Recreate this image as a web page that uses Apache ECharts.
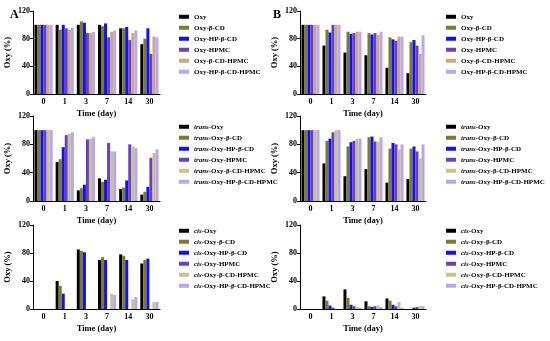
<!DOCTYPE html>
<html><head><meta charset="utf-8">
<script src="https://cdn.jsdelivr.net/npm/echarts@6/dist/echarts.min.js"></script>
<style>html,body{margin:0;padding:0;background:#fff}#c{width:550px;height:341px}</style>
</head><body><div id="c"></div>
<script>
const categories = ['0','1','3','7','14','30'];
const suffixes = ['', '-β-CD', '-HP-β-CD', '-HPMC', '-β-CD-HPMC', '-HP-β-CD-HPMC'];
const prefixes = ['Oxy', 'trans-Oxy', 'cis-Oxy'];
const yTicks = [0, 40, 80, 120];
// values: series-major (6 formulations x 6 days)
const oxyA = [
  [100,100,100,100,95,72],
  [100,93,105,98,95,80],
  [100,100,103,102,97,95],
  [100,95,88,82,78,58],
  [100,93,88,90,88,83],
  [100,96,90,92,92,82]
];
const transA = [
  [100,55,15,32,17,9],
  [100,59,18,27,19,13],
  [100,76,23,30,29,20],
  [100,93,87,82,80,61],
  [100,95,88,70,77,68],
  [100,97,90,70,75,73]
];
const cisA = [
  [0,40,85,70,78,65],
  [0,33,83,74,76,70],
  [0,22,81,70,70,72],
  [0,0,0,0,0,0],
  [0,0,0,22,14,10],
  [0,0,0,20,17,10]
];
const oxyB = [
  [100,70,60,56,38,30],
  [100,93,90,88,82,75],
  [100,89,87,86,79,78],
  [100,100,88,88,77,70],
  [100,100,90,85,83,58],
  [100,100,90,90,83,85]
];
const transB = [
  [100,53,35,45,26,31],
  [100,85,77,90,74,74],
  [100,88,83,91,82,77],
  [100,97,85,84,80,70],
  [100,100,88,84,73,60],
  [100,100,88,90,80,80]
];
const cisB = [
  [0,18,28,11,15,0],
  [0,12,16,4,12,0],
  [0,5,6,3,6,2],
  [0,2,4,4,4,3],
  [0,0,3,5,10,4],
  [0,0,2,3,2,4]
];
const colorsRow1 = ['#000000','#7d7a30','#1010f0','#6a3fc0','#c9a985','#b9a9f2'];
const colorsRow23 = ['#000000','#7d7a30','#1010f0','#6a3fc0','#c8c38e','#b4a6f0'];

const FONT = 'Liberation Serif';
const chart = echarts.init(document.getElementById('c'), null, {renderer:'canvas'});

const cols = [{left:33, width:127, legendLeft:179}, {left:300, width:126, legendLeft:446}];
const rows = [{top:11, height:83, legendTop:13}, {top:116, height:85, legendTop:123}, {top:225, height:84, legendTop:227}];
const panels = [[oxyA, transA, cisA], [oxyB, transB, cisB]];

const grid = [], xAxis = [], yAxis = [], series = [], legend = [];
let gi = 0;
for (let c = 0; c < 2; c++) {
  for (let r = 0; r < 3; r++) {
    grid.push({left: cols[c].left, width: cols[c].width, top: rows[r].top, height: rows[r].height, containLabel: false});
    xAxis.push({
      gridIndex: gi, type: 'category', data: categories,
      name: 'Time (day)', nameLocation: 'middle', nameGap: 15,
      nameTextStyle: {fontFamily: FONT, fontWeight: 'bold', fontSize: 8.5, color: '#000'},
      axisLine: {lineStyle: {color: '#000', width: 1}},
      axisTick: {alignWithLabel: true, length: 3, lineStyle: {color: '#000'}},
      axisLabel: {fontFamily: FONT, fontWeight: 'bold', fontSize: 8, color: '#000', margin: 4}
    });
    yAxis.push({
      gridIndex: gi, type: 'value', min: yTicks[0], max: yTicks[yTicks.length-1], interval: 40,
      name: 'Oxy (%)', nameLocation: 'middle', nameGap: 21,
      nameTextStyle: {fontFamily: FONT, fontWeight: 'bold', fontSize: 8.5, color: '#000'},
      axisLine: {show: true, lineStyle: {color: '#000', width: 1}},
      axisTick: {show: true, length: 3, lineStyle: {color: '#000'}},
      splitLine: {show: false},
      axisLabel: {fontFamily: FONT, fontWeight: 'bold', fontSize: 8, color: '#000', margin: 3}
    });
    const data = panels[c][r];
    const colors = r === 0 ? colorsRow1 : colorsRow23;
    const names = suffixes.map(s => prefixes[r] + s);
    for (let s = 0; s < 6; s++) {
      series.push({
        type: 'bar', name: names[s], xAxisIndex: gi, yAxisIndex: gi,
        data: data[s], barGap: '0%', barCategoryGap: '14%',
        itemStyle: {color: colors[s]}, animation: false
      });
    }
    legend.push({
      orient: 'vertical', left: cols[c].legendLeft, top: rows[r].legendTop, padding: 0,
      data: names, itemWidth: 10, itemHeight: 4, itemGap: 3.5, icon: 'rect',
      selectedMode: false,
      formatter: function (n) {
        if (n.indexOf('trans-') === 0) return '{i|trans}{b|' + n.slice(5) + '}';
        if (n.indexOf('cis-') === 0) return '{i|cis}{b|' + n.slice(3) + '}';
        return '{b|' + n + '}';
      },
      textStyle: {
        fontFamily: FONT, fontWeight: 'bold', fontSize: 7, color: '#000', lineHeight: 7.5, padding: [0,0,0,0],
        rich: {
          i: {fontFamily: FONT, fontWeight: 'bold', fontStyle: 'italic', fontSize: 7, color: '#000', lineHeight: 7.5},
          b: {fontFamily: FONT, fontWeight: 'bold', fontSize: 7, color: '#000', lineHeight: 7.5}
        }
      }
    });
    gi++;
  }
}

chart.setOption({
  animation: false,
  grid, xAxis, yAxis, series, legend,
  title: [
    {text: 'A', left: 5, top: 4, textStyle: {fontFamily: FONT, fontWeight: 'bold', fontSize: 12, color: '#000'}},
    {text: 'B', left: 268, top: 4, textStyle: {fontFamily: FONT, fontWeight: 'bold', fontSize: 12, color: '#000'}}
  ]
});
</script>
</body></html>
